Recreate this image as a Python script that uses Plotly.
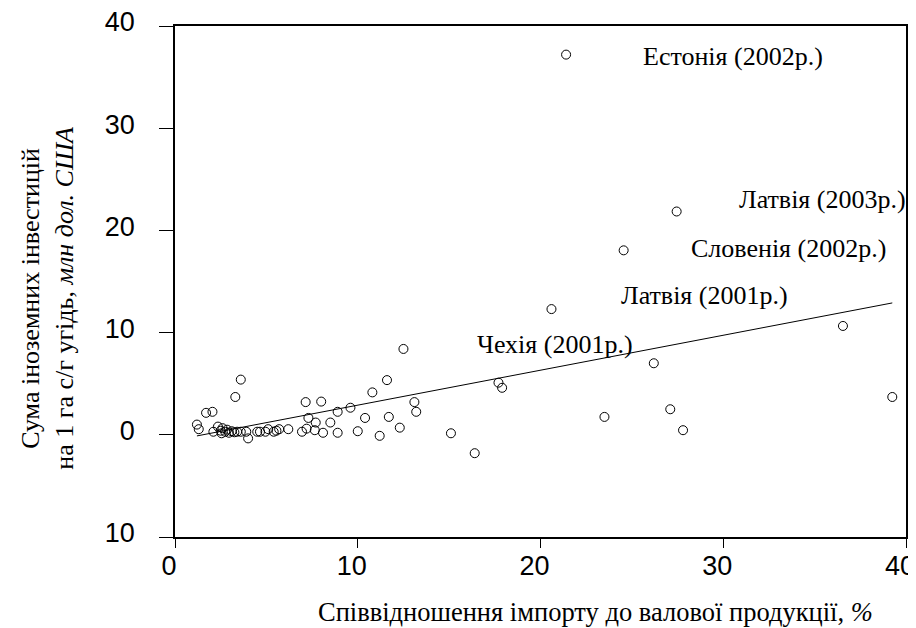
import plotly.graph_objects as go

# Data
import_ratio = [1.2, 1.3, 1.7, 2.05, 3.3, 3.6, 4.0,
                2.1, 2.35, 2.5, 2.6, 2.75, 2.85, 2.95, 3.1, 3.25, 2.55, 3.4, 3.6, 3.9,
                4.5, 4.65, 4.95, 5.1, 5.4, 5.55, 5.7, 6.2, 6.95,
                7.2, 7.15, 8.0, 7.3, 7.7, 8.5, 8.9, 9.6, 10.4, 10.8, 11.6, 11.7, 12.3,
                11.2, 10.0, 8.9, 8.1, 7.65, 12.5, 13.1, 13.2, 15.1, 16.4, 17.7, 17.9,
                20.6, 21.4, 23.5, 24.55, 26.2, 27.1, 27.45, 27.8, 36.55, 39.25]
investment = [1.0, 0.55, 2.15, 2.25, 3.7, 5.4, -0.35,
              0.3, 0.8, 0.4, 0.65, 0.3, 0.5, 0.2, 0.35, 0.25, 0.15, 0.3, 0.3, 0.3,
              0.3, 0.3, 0.3, 0.55, 0.3, 0.4, 0.55, 0.55, 0.3,
              0.6, 3.2, 3.25, 1.65, 1.2, 1.2, 2.25, 2.65, 1.65, 4.15, 5.35, 1.75, 0.7,
              -0.1, 0.35, 0.2, 0.2, 0.45, 8.4, 3.2, 2.25, 0.15, -1.8, 5.1, 4.6,
              12.3, 37.2, 1.75, 18.05, 7.0, 2.5, 21.85, 0.45, 10.65, 3.7]

trend_slope = 0.342
trend_intercept = -0.52

label_texts = ["Естонія (2002р.)", "Латвія (2003р.)", "Словенія (2002р.)",
               "Латвія (2001р.)", "Чехія (2001р.)"]
label_x = [25.5, 30.75, 28.1, 24.3, 16.4]
label_y = [37.0, 23.0, 18.25, 13.6, 8.8]

x_ticks = [0, 10, 20, 30, 40]
y_ticks = [-10, 0, 10, 20, 30, 40]
y_ticktext = ["10", "0", "10", "20", "30", "40"]

fig = go.Figure()
fig.add_trace(go.Scatter(
    x=import_ratio, y=investment, mode="markers",
    marker=dict(symbol="circle-open", size=9, color="black", line=dict(width=1, color="black")),
    showlegend=False, hoverinfo="x+y", cliponaxis=False))

x_min, x_max = min(import_ratio), max(import_ratio)
fig.add_trace(go.Scatter(
    x=[x_min, x_max],
    y=[trend_intercept + trend_slope * x_min, trend_intercept + trend_slope * x_max],
    mode="lines", line=dict(color="black", width=1), showlegend=False, hoverinfo="skip"))

serif = "Times New Roman, Liberation Serif, serif"
for t, xx, yy in zip(label_texts, label_x, label_y):
    fig.add_annotation(x=xx, y=yy, text=t, showarrow=False, xanchor="left", yanchor="middle",
                       font=dict(family=serif, size=26, color="black"))

fig.add_annotation(xref="paper", yref="paper", x=0.5746, y=-0.147,
                   text="Співвідношення імпорту до валової продукції, <i>%</i>",
                   showarrow=False, xanchor="center", yanchor="middle",
                   font=dict(family=serif, size=26.5, color="black"))
fig.add_annotation(xref="paper", yref="paper", x=-0.174, y=0.468,
                   text="Сума іноземних інвестицій<br>на 1 га с/г угідь, <i>млн дол. США</i>",
                   showarrow=False, xanchor="center", yanchor="middle", textangle=-90,
                   font=dict(family=serif, size=26, color="black"))

# The page body has an 8px default margin, so the figure is sized/offset for it.
fig.update_layout(
    width=908, height=620,
    margin=dict(l=167, r=10, t=18, b=91, autoexpand=False),
    paper_bgcolor="white", plot_bgcolor="white",
    font=dict(family="Liberation Sans, Arial, sans-serif", size=27, color="black"),
    xaxis=dict(range=[0, 40], tickvals=x_ticks, ticks="outside", ticklen=9, tickwidth=1,
               tickcolor="black", showline=True, linecolor="black", linewidth=1.5,
               mirror=True, showgrid=False, zeroline=False, ticklabelstandoff=-5,
               ticklabelshift=-6, ticklabeloverflow="allow", automargin=False),
    yaxis=dict(range=[-10, 40], tickvals=y_ticks, ticktext=y_ticktext, ticks="outside",
               ticklen=14, tickwidth=1, tickcolor="black", showline=True, linecolor="black",
               linewidth=1.5, mirror=True, showgrid=False, zeroline=False,
               ticklabelstandoff=19, ticklabelshift=-4, ticklabeloverflow="allow",
               automargin=False),
)

fig.write_html("out.html")
